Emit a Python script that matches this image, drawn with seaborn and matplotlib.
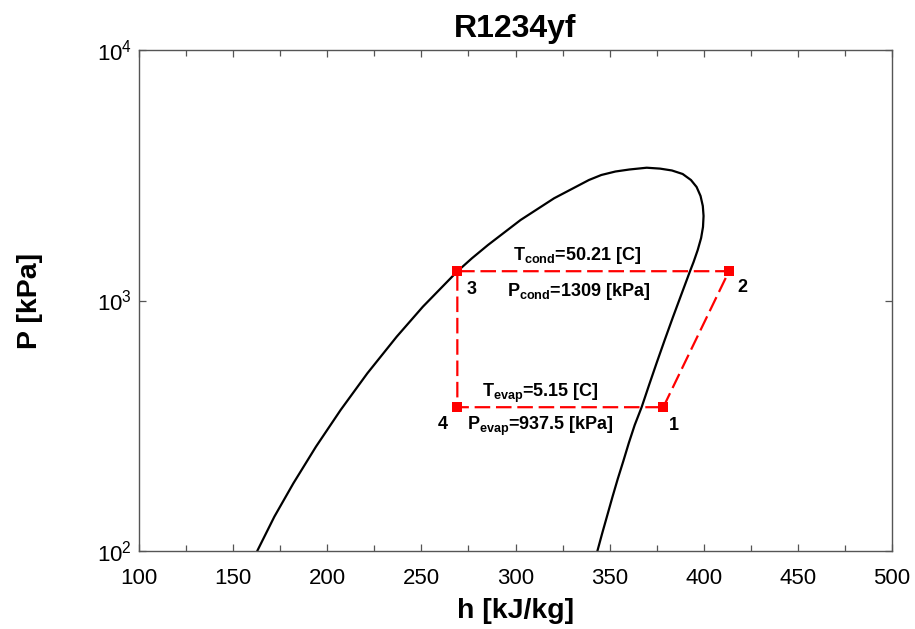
import matplotlib
matplotlib.use("Agg")
import matplotlib.pyplot as plt
import numpy as np
import pandas as pd
import seaborn as sns
from matplotlib.ticker import MultipleLocator, LogLocator, NullLocator

# Saturated liquid line (h in kJ/kg, P in kPa), bottom up to the critical point
h_liquid = [162.8, 171.9, 182.0, 194.0, 207.1, 221.3, 236.9, 250.8, 269.0,
            276.8, 285.4, 302.7, 320.5, 339.0, 345.6, 353.1, 360.5, 369.7]
p_liquid = [100, 137.1, 186.3, 260.9, 365.5, 512.1, 717.2, 944.7, 1305,
            1473, 1666, 2096, 2559, 3027, 3170, 3273, 3334, 3389]

# Saturated vapour line, from the critical point round the nose and down
h_vapor = [376.8, 383.1, 388.8, 393.2, 396.2, 398.3, 399.5, 399.9, 399.6,
           398.6, 396.8, 394.6, 392.6, 388.1, 383.6, 379.3, 375.1, 371.0,
           367.0, 363.3, 360.2, 357.3, 354.3, 351.5, 348.8, 346.1, 343.5]
p_vapor = [3361, 3304, 3199, 3027, 2839, 2614, 2384, 2175, 1966,
           1776, 1591, 1425, 1303, 1057, 857, 697, 567, 461,
           375, 318, 270, 228.8, 193.8, 164.3, 139.2, 118.0, 100]

# Refrigeration cycle state points 1-4
state_names = ["1", "2", "3", "4"]
h_cycle = [378.5, 413.4, 269.1, 269.1]
p_cycle = [375, 1309, 1309, 375]

# Condenser / evaporator annotations
cond_labels = [r"T$_{\mathbf{cond}}$=50.21 [C]", r"P$_{\mathbf{cond}}$=1309 [kPa]"]
evap_labels = [r"T$_{\mathbf{evap}}$=5.15 [C]", r"P$_{\mathbf{evap}}$=937.5 [kPa]"]

x_ticks = [100, 150, 200, 250, 300, 350, 400, 450, 500]

sns.set_theme(style="ticks")
plt.rcParams["font.family"] = ["Liberation Sans", "DejaVu Sans"]
plt.rcParams["text.color"] = "black"
plt.rcParams["axes.labelcolor"] = "black"
plt.rcParams["mathtext.fontset"] = "custom"
plt.rcParams["mathtext.rm"] = "Liberation Sans"
plt.rcParams["mathtext.bf"] = "Liberation Sans:bold"
plt.rcParams["mathtext.it"] = "Liberation Sans:italic"

dome = pd.DataFrame({"h": h_liquid + h_vapor, "P": p_liquid + p_vapor})
cycle = pd.DataFrame({"h": h_cycle + h_cycle[:1], "P": p_cycle + p_cycle[:1]})
points = pd.DataFrame({"h": h_cycle, "P": p_cycle, "state": state_names})

fig = plt.figure(figsize=(9.15, 6.29), dpi=100)
ax = fig.add_axes([139 / 915, 1 - 551 / 629, 753 / 915, 501 / 629])

red = "#ff0000"
sns.lineplot(data=dome, x="h", y="P", sort=False, estimator=None,
             color="black", lw=1.6, ax=ax)
sns.lineplot(data=cycle, x="h", y="P", sort=False, estimator=None,
             color=red, lw=1.6, linestyle=(0, (7, 2.6)), ax=ax)
sns.scatterplot(data=points, x="h", y="P", marker="s", s=55, color=red,
                edgecolor="none", ax=ax, zorder=4)

ax.set_yscale("log")
ax.set_xlim(100, 500)
ax.set_ylim(100, 10000)
ax.set_xticks(x_ticks)
ax.xaxis.set_minor_locator(MultipleLocator(25))
ax.yaxis.set_major_locator(LogLocator(base=10))
ax.yaxis.set_minor_locator(NullLocator())

ax.tick_params(which="both", direction="in", top=True, right=True,
               width=0.9, color="#555555", labelcolor="black")
ax.tick_params(which="major", length=5)
ax.tick_params(which="minor", length=4.5)
ax.tick_params(axis="x", which="major", labelsize=16, pad=12)
ax.tick_params(axis="y", which="major", labelsize=16, pad=5)

for s in ax.spines.values():
    s.set_color("#555555")
    s.set_linewidth(1.0)

# State numbers next to each corner of the cycle
num_offsets = {"1": (7.7, -13.5), "2": (9.9, -12.0), "3": (10.4, -13.2), "4": (-10.5, -12.7)}
for name, h, p in zip(state_names, h_cycle, p_cycle):
    ax.annotate(name, xy=(h, p), xytext=num_offsets[name], textcoords="offset points",
                ha="center", va="center", fontsize=13, fontweight="bold")

# Condenser line labels (between states 3 and 2)
h_cond_mid = (h_cycle[1] + h_cycle[2]) / 2
ax.annotate(cond_labels[0], xy=(h_cond_mid, p_cycle[1]), xytext=(-11.5, 8.4),
            textcoords="offset points", ha="center", va="baseline",
            fontsize=13, fontweight="bold")
ax.annotate(cond_labels[1], xy=(h_cond_mid, p_cycle[1]), xytext=(-10.5, -18.0),
            textcoords="offset points", ha="center", va="baseline",
            fontsize=13, fontweight="bold")

# Evaporator line labels (between states 4 and 1)
h_evap_mid = (h_cycle[0] + h_cycle[3]) / 2
ax.annotate(evap_labels[0], xy=(h_evap_mid, p_cycle[0]), xytext=(-14.4, 7.6),
            textcoords="offset points", ha="center", va="baseline",
            fontsize=13, fontweight="bold")
ax.annotate(evap_labels[1], xy=(h_evap_mid, p_cycle[0]), xytext=(-14.0, -16.3),
            textcoords="offset points", ha="center", va="baseline",
            fontsize=13, fontweight="bold")

ax.set_title("R1234yf", fontsize=23, fontweight="bold", pad=9)
ax.set_xlabel("h [kJ/kg]", fontsize=20.5, fontweight="bold")
ax.set_ylabel("P [kPa]", fontsize=20.5, fontweight="bold")
ax.xaxis.set_label_coords(0.5, -0.094)
ax.yaxis.set_label_coords(-0.128, 0.5)

fig.savefig("out.png", dpi=100)
